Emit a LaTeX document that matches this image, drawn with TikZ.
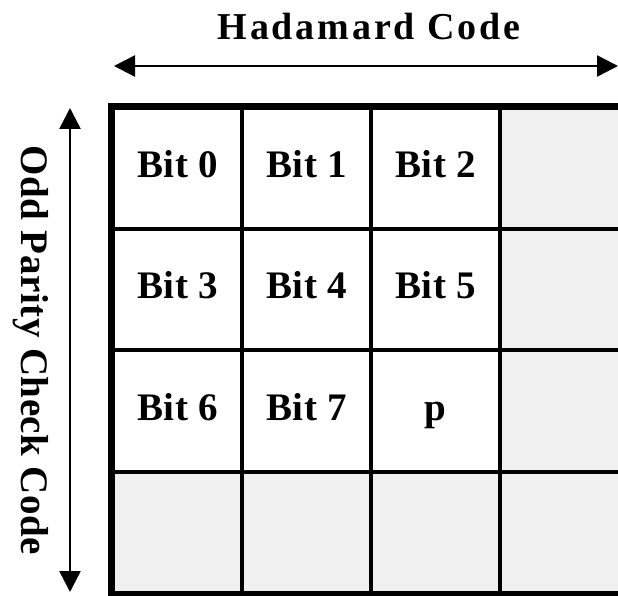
\documentclass[tikz,border=0pt]{standalone}
\usepackage{fontspec}
\setmainfont{Liberation Serif}
\newfontfamily\lblfont{Liberation Serif}[LetterSpace=1.5]
\newfontfamily\hdfont{Liberation Serif}[LetterSpace=7.5]
\usetikzlibrary{arrows.meta}
\definecolor{cellgray}{HTML}{F0F0F0}
\tikzset{
  cell/.style={draw=black, line width=4pt, minimum width=129pt, minimum height=121.25pt,
    inner sep=0pt, text height=26pt, text depth=8pt,
    font=\lblfont\bfseries\fontsize{39}{45}\selectfont},
  graycell/.style={cell, fill=cellgray},
  whitecell/.style={cell, fill=white},
  title/.style={font=\lblfont\bfseries\fontsize{39}{45}\selectfont, inner sep=0pt, anchor=base},
  dimarrow/.style={line width=2.5pt, {Triangle[length=21pt,width=21pt]}-{Triangle[length=21pt,width=21pt]}}
}
\begin{document}
\begin{tikzpicture}[x=1pt,y=1pt]
\useasboundingbox (0,0) rectangle (618,595);
% cells
\node[whitecell] (c11) at (177.5,426.4) {Bit 0};
\node[whitecell] (c12) at (306.5,426.4) {Bit 1};
\node[whitecell] (c13) at (435.5,426.4) {Bit 2};
\node[graycell]  (c14) at (564.5,426.4) {};
\node[whitecell] (c21) at (177.5,305.1) {Bit 3};
\node[whitecell] (c22) at (306.5,305.1) {Bit 4};
\node[whitecell] (c23) at (435.5,305.1) {Bit 5};
\node[graycell]  (c24) at (564.5,305.1) {};
\node[whitecell] (c31) at (177.5,183.9) {Bit 6};
\node[whitecell] (c32) at (306.5,183.9) {Bit 7};
\node[whitecell] (c33) at (435.5,183.9) {p};
\node[graycell]  (c34) at (564.5,183.9) {};
\node[graycell]  (c41) at (177.5,62.6) {};
\node[graycell]  (c42) at (306.5,62.6) {};
\node[graycell]  (c43) at (435.5,62.6) {};
\node[graycell]  (c44) at (564.5,62.6) {};
% outer border
\draw[line width=6pt] (c11.north west) rectangle (c44.south east);
% titles
\node[title, font=\hdfont\bfseries\fontsize{38}{45}\selectfont] (htitle) at (369,555) {Hadamard Code};
\node[title, rotate=-90] (vtitle) at (21,244.5) {Odd Parity Check Code};
% arrows
\coordinate (hl) at (114,529);
\coordinate (hr) at (618,529);
\coordinate (vt) at (70,487);
\coordinate (vb) at (70,3);
\draw[dimarrow] (hl) -- (hr);
\draw[dimarrow] (vt) -- (vb);
\end{tikzpicture}
\end{document}
